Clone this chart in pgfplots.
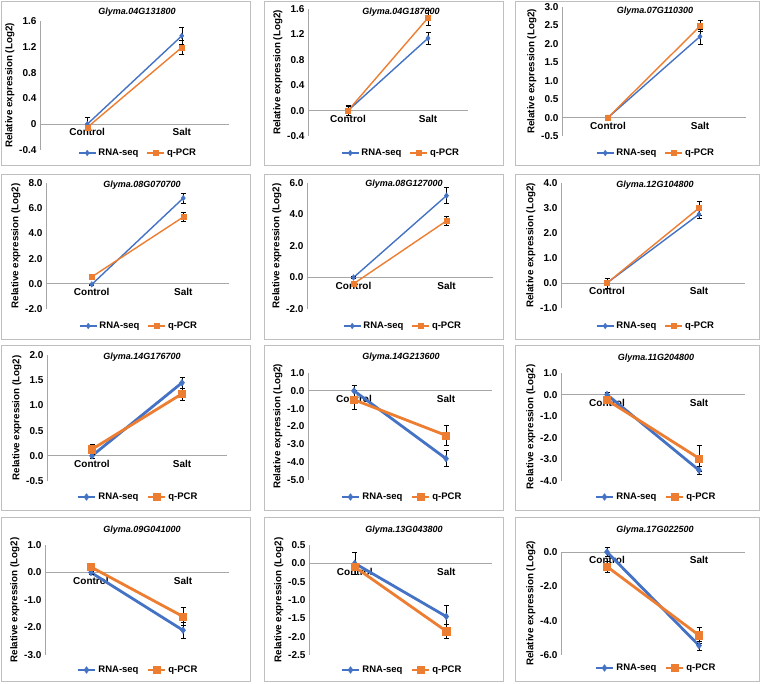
\documentclass[border=0pt]{standalone}
\usepackage{fontspec}
\setmainfont{Liberation Sans}
\usepackage{pgfplots}
\pgfplotsset{compat=1.18}

\definecolor{rnaseq}{HTML}{4472C4}
\definecolor{qpcr}{HTML}{ED7D31}
\definecolor{frame}{HTML}{BFBFBF}
\definecolor{axisgray}{HTML}{A6A6A6}

\newcommand{\fs}{\bfseries\fontsize{9.5}{11}\selectfont}

\pgfplotsset{
  panel/.style={
    scale only axis,
    axis x line=middle, axis y line=left,
    axis line style={-, draw=axisgray, line width=0.7pt},
    xmin=0.5, xmax=2.5, xtick={1,2}, xticklabels={Control,Salt},
    major tick length=0pt,
    tick label style={font=\bfseries\fontsize{10}{11}\selectfont},
    xticklabel style={font=\bfseries\fontsize{10}{11}\selectfont, yshift=-1pt},
    ylabel={Relative expression (Log2)},
    ylabel style={font=\bfseries\fontsize{9.8}{11}\selectfont, yshift=-2pt},
    every axis title/.style={at={(0.5,1)}, anchor=center, font=\bfseries\itshape\fontsize{9}{10}\selectfont},
    legend columns=2,
    legend style={draw=none, fill=none, font=\fs, at={(0.5,0)}, anchor=center,
      /tikz/every even column/.append style={column sep=6pt}},
    clip=false,
    error bars/y dir=both, error bars/y explicit,
    error bars/error bar style={black, line width=0.5pt},
    error bars/error mark options={rotate=90, black, mark size=2.5pt, line width=0.5pt},
  },
  thin rna/.style={rnaseq, line width=1.4pt, mark=diamond*, mark size=2.8pt, mark options={fill=rnaseq, draw=rnaseq, line width=0.4pt}},
  thin qpcr/.style={qpcr, line width=1.4pt, mark=square*, mark size=2.5pt, mark options={fill=qpcr, draw=qpcr, line width=0.4pt}},
  thick rna/.style={rnaseq, line width=2.8pt, mark=diamond*, mark size=3.4pt, mark options={fill=rnaseq, draw=rnaseq, line width=0.4pt}},
  thick qpcr/.style={qpcr, line width=2.8pt, mark=square*, mark size=3.6pt, mark options={fill=qpcr, draw=qpcr, line width=0.4pt}},
}

\begin{document}
\begin{tikzpicture}
\path[use as bounding box] (0,0) rectangle (762pt,-684pt);

% panel frames
\foreach \xa/\xb in {1/250, 264/503, 515/759}{
  \foreach \ya/\yb in {1/165, 174/339, 345/510, 517/681}{
    \draw[frame, line width=0.8pt] (\xa pt,-\ya pt) rectangle (\xb pt,-\yb pt);
  }
}

% ---- row 1 ----
\begin{axis}[panel, at={(40pt,-150pt)}, anchor=south west, width=189pt, height=129pt,
  ymin=-0.4, ymax=1.6, ytick={-0.4,0,0.4,0.8,1.2,1.6}, yticklabels={-0.4,0,0.4,0.8,1.2,1.6},
  title={Glyma.04G131800}, title style={xshift=2.5pt, yshift=9pt},
  legend style={xshift=3.5pt, yshift=-3pt}]
\addplot[thin rna] coordinates {(1,0.00) +- (0,0.10) (2,1.37) +- (0,0.13)};
\addplot[thin qpcr] coordinates {(1,-0.05) +- (0,0.03) (2,1.19) +- (0,0.11)};
\legend{RNA-seq,q-PCR}
\end{axis}

\begin{axis}[panel, at={(308pt,-136pt)}, anchor=south west, width=160pt, height=127pt,
  ymin=-0.4, ymax=1.6, ytick={-0.4,0,0.4,0.8,1.2,1.6}, yticklabels={-0.4,0.0,0.4,0.8,1.2,1.6},
  title={Glyma.04G187000}, title style={xshift=13pt, yshift=-3pt},
  legend style={xshift=13pt, yshift=-17pt}]
\addplot[thin rna] coordinates {(1,0.00) +- (0,0.08) (2,1.14) +- (0,0.10)};
\addplot[thin qpcr] coordinates {(1,0.00) +- (0,0.07) (2,1.46) +- (0,0.12)};
\legend{RNA-seq,q-PCR}
\end{axis}

\begin{axis}[panel, at={(562pt,-136pt)}, anchor=south west, width=184pt, height=129pt,
  ymin=-0.5, ymax=3.0, ytick={-0.5,0,0.5,1,1.5,2,2.5,3}, yticklabels={-0.5,0.0,0.5,1.0,1.5,2.0,2.5,3.0},
  title={Glyma.07G110300}, title style={xshift=1pt, yshift=-4pt},
  legend style={xshift=2pt, yshift=-17pt}]
\addplot[thin rna] coordinates {(1,0.00) +- (0,0.02) (2,2.20) +- (0,0.20)};
\addplot[thin qpcr] coordinates {(1,0.00) +- (0,0.02) (2,2.48) +- (0,0.15)};
\legend{RNA-seq,q-PCR}
\end{axis}

% ---- row 2 ----
\begin{axis}[panel, at={(46pt,-309pt)}, anchor=south west, width=183pt, height=126pt,
  ymin=-2, ymax=8, ytick={-2,0,2,4,6,8}, yticklabels={-2.0,0.0,2.0,4.0,6.0,8.0},
  title={Glyma.08G070700}, title style={xshift=4.5pt, yshift=-2pt},
  legend style={xshift=1.5pt, yshift=-17pt}]
\addplot[thin rna] coordinates {(1,-0.05) +- (0,0.05) (2,6.80) +- (0,0.40)};
\addplot[thin qpcr] coordinates {(1,0.55) +- (0,0.10) (2,5.30) +- (0,0.35)};
\legend{RNA-seq,q-PCR}
\end{axis}

\begin{axis}[panel, at={(307pt,-309pt)}, anchor=south west, width=186pt, height=126pt,
  ymin=-2, ymax=6, ytick={-2,0,2,4,6}, yticklabels={-2.0,0.0,2.0,4.0,6.0},
  title={Glyma.08G127000}, title style={xshift=4pt, yshift=-1pt},
  legend style={xshift=3pt, yshift=-17pt}]
\addplot[thin rna] coordinates {(1,0.00) +- (0,0.05) (2,5.20) +- (0,0.50)};
\addplot[thin qpcr] coordinates {(1,-0.40) +- (0,0.08) (2,3.60) +- (0,0.30)};
\legend{RNA-seq,q-PCR}
\end{axis}

\begin{axis}[panel, at={(561pt,-308pt)}, anchor=south west, width=184pt, height=125pt,
  ymin=-1, ymax=4, ytick={-1,0,1,2,3,4}, yticklabels={-1.0,0.0,1.0,2.0,3.0,4.0},
  title={Glyma.12G104800}, title style={xshift=2pt, yshift=-2pt},
  legend style={xshift=3pt, yshift=-18pt}]
\addplot[thin rna] coordinates {(1,0.00) +- (0,0.20) (2,2.75) +- (0,0.15)};
\addplot[thin qpcr] coordinates {(1,0.00) +- (0,0.20) (2,3.00) +- (0,0.28)};
\legend{RNA-seq,q-PCR}
\end{axis}

% ---- row 3 ----
\begin{axis}[panel, at={(47pt,-481pt)}, anchor=south west, width=180pt, height=126pt,
  ymin=-0.5, ymax=2.0, ytick={-0.5,0,0.5,1,1.5,2}, yticklabels={-0.5,0.0,0.5,1.0,1.5,2.0},
  title={Glyma.14G176700}, title style={xshift=5pt, yshift=-2pt},
  legend style={xshift=1pt, yshift=-16pt}]
\addplot[thick rna] coordinates {(1,0.00) +- (0,0.05) (2,1.45) +- (0,0.11)};
\addplot[thick qpcr] coordinates {(1,0.13) +- (0,0.10) (2,1.23) +- (0,0.12)};
\legend{RNA-seq,q-PCR}
\end{axis}

\begin{axis}[panel, at={(308pt,-480pt)}, anchor=south west, width=184pt, height=107pt,
  ymin=-5, ymax=1, ytick={-5,-4,-3,-2,-1,0,1}, yticklabels={-5.0,-4.0,-3.0,-2.0,-1.0,0.0,1.0},
  title={Glyma.14G213600}, title style={xshift=1pt, yshift=16pt},
  legend style={xshift=2pt, yshift=-17pt}]
\addplot[thick rna] coordinates {(1,0.00) +- (0,0.30) (2,-3.80) +- (0,0.45)};
\addplot[thick qpcr] coordinates {(1,-0.50) +- (0,0.55) (2,-2.50) +- (0,0.55)};
\legend{RNA-seq,q-PCR}
\end{axis}

\begin{axis}[panel, at={(561pt,-481pt)}, anchor=south west, width=184pt, height=108pt,
  ymin=-4, ymax=1, ytick={-4,-3,-2,-1,0,1}, yticklabels={-4.0,-3.0,-2.0,-1.0,0.0,1.0},
  title={Glyma.11G204800}, title style={xshift=3pt, yshift=15pt},
  legend style={xshift=3pt, yshift=-16pt}]
\addplot[thick rna] coordinates {(1,0.00) +- (0,0.10) (2,-3.50) +- (0,0.20)};
\addplot[thick qpcr] coordinates {(1,-0.25) +- (0,0.15) (2,-2.95) +- (0,0.60)};
\legend{RNA-seq,q-PCR}
\end{axis}

% ---- row 4 ----
\begin{axis}[panel, at={(45pt,-655pt)}, anchor=south west, width=184pt, height=110pt,
  ymin=-3, ymax=1, ytick={-3,-2,-1,0,1}, yticklabels={-3.0,-2.0,-1.0,0.0,1.0},
  title={Glyma.09G041000}, title style={xshift=5pt, yshift=15pt},
  legend style={xshift=1pt, yshift=-15pt}]
\addplot[thick rna] coordinates {(1,0.00) +- (0,0.05) (2,-2.10) +- (0,0.30)};
\addplot[thick qpcr] coordinates {(1,0.20) +- (0,0.15) (2,-1.60) +- (0,0.33)};
\legend{RNA-seq,q-PCR}
\end{axis}

\begin{axis}[panel, at={(309pt,-655pt)}, anchor=south west, width=183pt, height=110pt,
  ymin=-2.5, ymax=0.5, ytick={-2.5,-2,-1.5,-1,-0.5,0,0.5}, yticklabels={-2.5,-2.0,-1.5,-1.0,-0.5,0.0,0.5},
  title={Glyma.13G043800}, title style={xshift=3.5pt, yshift=15pt},
  legend style={xshift=1.5pt, yshift=-15pt}]
\addplot[thick rna] coordinates {(1,0.00) +- (0,0.30) (2,-1.45) +- (0,0.30)};
\addplot[thick qpcr] coordinates {(1,-0.10) +- (0,0.10) (2,-1.85) +- (0,0.20)};
\legend{RNA-seq,q-PCR}
\end{axis}

\begin{axis}[panel, at={(561pt,-655pt)}, anchor=south west, width=184pt, height=103pt,
  ymin=-6, ymax=0, ytick={-6,-4,-2,0}, yticklabels={-6.0,-4.0,-2.0,0.0},
  title={Glyma.17G022500}, title style={xshift=2pt, yshift=22pt},
  legend style={xshift=3pt, yshift=-13pt}]
\addplot[thick rna] coordinates {(1,0.00) +- (0,0.25) (2,-5.45) +- (0,0.25)};
\addplot[thick qpcr] coordinates {(1,-0.85) +- (0,0.30) (2,-4.85) +- (0,0.45)};
\legend{RNA-seq,q-PCR}
\end{axis}
\end{tikzpicture}
\end{document}
